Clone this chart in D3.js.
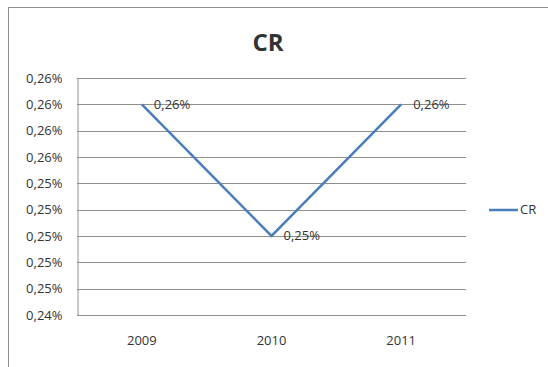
<!DOCTYPE html>
<html>
<head>
<meta charset="utf-8">
<script src="https://cdn.jsdelivr.net/npm/d3@7"></script>
<style>
  html, body { margin: 0; padding: 0; background: #fff; }
  svg { display: block; }
  text { font-family: "Open Sans", "Noto Sans", sans-serif; fill: #333; }
</style>
</head>
<body>
<svg id="chart" width="548" height="367"></svg>
<script>
// CR ratio by year, in percent
const years = ["2009", "2010", "2011"];
const crValues = [0.260, 0.250, 0.260];
const yTicks = [0.244, 0.246, 0.248, 0.250, 0.252, 0.254, 0.256, 0.258, 0.260, 0.262];
const seriesName = "CR";
const chartTitle = "CR";

const svg = d3.select("#chart");
const plot = { left: 77, right: 466, top: 78, bottom: 315 };

const fmt = v => d3.format(".2f")(v).replace(".", ",") + "%";

// outer chart frame (runs past the right and bottom edges)
svg.append("rect")
  .attr("x", 8.5).attr("y", 7.5)
  .attr("width", 600).attr("height", 400)
  .attr("fill", "#fff")
  .attr("stroke", "#8e8e8e").attr("stroke-width", 1);

const x = d3.scaleBand().domain(years).range([plot.left, plot.right]);
const y = d3.scaleLinear().domain([0.244, 0.262]).range([plot.bottom, plot.top]);

// horizontal gridlines
svg.append("g")
  .selectAll("line")
  .data(yTicks)
  .join("line")
  .attr("x1", plot.left).attr("x2", plot.right)
  .attr("y1", d => Math.round(y(d)) + 0.5).attr("y2", d => Math.round(y(d)) + 0.5)
  .attr("stroke", "#8f8f8f").attr("stroke-width", 1);

// y axis
const yAxis = svg.append("g")
  .attr("transform", `translate(${plot.left + 0.5},0)`)
  .call(d3.axisLeft(y).tickValues(yTicks).tickFormat(fmt).tickSize(0).tickPadding(15));
yAxis.select(".domain").attr("stroke", "#8f8f8f");
yAxis.selectAll("text")
  .style("font-family", "'Open Sans', sans-serif")
  .style("font-size", "13px").attr("fill", "#333");

// x axis labels
const xAxis = svg.append("g")
  .attr("transform", `translate(0,${plot.bottom})`)
  .call(d3.axisBottom(x).tickSize(0).tickPadding(21));
xAxis.select(".domain").remove();
xAxis.selectAll("text")
  .style("font-family", "'Open Sans', sans-serif")
  .style("font-size", "13px").attr("fill", "#333");

// series line
const pts = years.map((yr, i) => ({ yr, v: crValues[i] }));
const line = d3.line()
  .x(d => x(d.yr) + x.bandwidth() / 2)
  .y(d => y(d.v));
svg.append("path")
  .datum(pts)
  .attr("d", line)
  .attr("fill", "none")
  .attr("stroke", "#4a7ebb")
  .attr("stroke-width", 2.5)
  .attr("stroke-linejoin", "miter");

// data labels
svg.append("g")
  .selectAll("text")
  .data(pts)
  .join("text")
  .attr("x", d => x(d.yr) + x.bandwidth() / 2 + 12)
  .attr("y", d => y(d.v) + 1)
  .attr("dominant-baseline", "middle")
  .style("font-size", "13px")
  .text(d => fmt(d.v));

// title
svg.append("text")
  .attr("x", 268).attr("y", 51)
  .attr("text-anchor", "middle")
  .style("font-size", "24px").style("font-weight", "bold")
  .attr("fill", "#111")
  .text(chartTitle);

// legend
const lg = svg.append("g").attr("transform", "translate(489,210)");
lg.append("line")
  .attr("x1", 0).attr("x2", 29).attr("y1", 0).attr("y2", 0)
  .attr("stroke", "#4a7ebb").attr("stroke-width", 2.5);
lg.append("text")
  .attr("x", 31).attr("y", 1)
  .attr("dominant-baseline", "middle")
  .style("font-size", "13px")
  .text(seriesName);
</script>
</body>
</html>
